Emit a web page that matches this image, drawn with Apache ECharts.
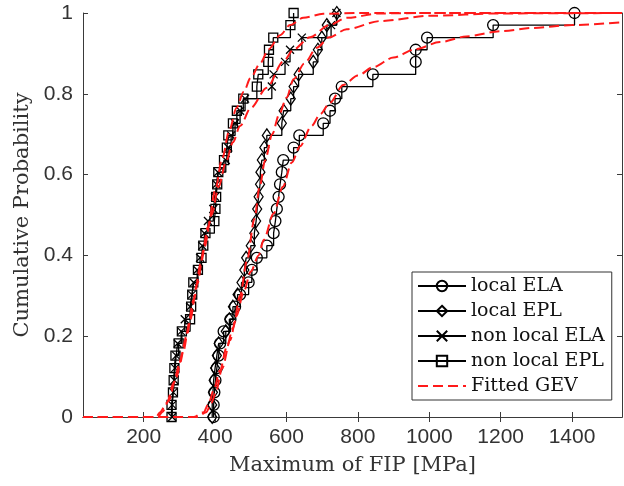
<!DOCTYPE html>
<html>
<head>
<meta charset="utf-8">
<script src="https://cdn.jsdelivr.net/npm/echarts@6/dist/echarts.min.js"></script>
<style>
html,body{margin:0;padding:0;background:#fff;}
#chart{width:624px;height:486px;}
</style>
</head>
<body>
<div id="chart"></div>
<script>
// ECDF probability levels (n = 33 samples)
var levels = [0, 0.030, 0.061, 0.091, 0.121, 0.152, 0.182, 0.212, 0.242, 0.273, 0.303, 0.333, 0.364, 0.394, 0.424, 0.455, 0.485, 0.515, 0.545, 0.576, 0.606, 0.636, 0.667, 0.697, 0.727, 0.758, 0.788, 0.818, 0.848, 0.879, 0.909, 0.939, 0.970, 1];

// Sorted maxima of FIP [MPa] for each model
var localELA = [396,396,398,401,405,410,414,424,443,456,470,494,503,517,545,564,569,573,578,582,587,591,620,636,703,722,736,755,842,962,962,994,1179,1407];
var localEPL = [392,392,394,396,400,405,410,430,440,450,463,474,482,487,500,510,515,518,522,526,527,531,538,545,587,592,612,620,634,675,688,699,713,741];
var nonlocalELA = [280,280,283,286,288,291,295,305,315,330,335,340,350,358,364,370,380,395,400,404,408,430,437,445,456,470,484,559,564,596,610,643,725,740];
var nonlocalEPL = [278,278,282,284,286,289,298,307,330,333,336,339,352,362,367,373,398,401,403,406,409,425,433,437,450,461,479,517,521,549,551,563,611,620];

// Fitted GEV curves [x, F]
var gevNonlocalEPL = [[30,0],[235,0],[246,0.012],[265,0.035],[284,0.085],[300,0.13],[320,0.2],[340,0.29],[360,0.38],[380,0.47],[400,0.56],[420,0.64],[440,0.71],[460,0.765],[480,0.805],[500,0.84],[526,0.875],[550,0.91],[582,0.945],[610,0.97],[647,0.988],[703,0.998],[800,1],[1540,1]];
var gevNonlocalELA = [[30,0],[240,0],[252,0.012],[270,0.04],[290,0.095],[310,0.16],[330,0.24],[350,0.33],[370,0.42],[390,0.5],[410,0.57],[430,0.63],[450,0.68],[470,0.72],[500,0.765],[545,0.815],[591,0.88],[620,0.91],[666,0.94],[720,0.97],[769,0.988],[862,0.999],[1000,1],[1540,1]];
var gevLocalEPL = [[30,0],[340,0],[368,0.012],[382,0.033],[396,0.066],[414,0.116],[433,0.174],[450,0.22],[470,0.3],[490,0.39],[510,0.49],[525,0.57],[540,0.635],[560,0.7],[580,0.75],[600,0.79],[620,0.836],[650,0.875],[685,0.914],[720,0.94],[769,0.96],[862,0.98],[1002,0.993],[1200,0.999],[1540,1]];
var gevLocalELA = [[30,0],[350,0],[375,0.012],[390,0.035],[401,0.058],[420,0.12],[442,0.19],[460,0.25],[480,0.31],[500,0.36],[522,0.4],[536,0.438],[564,0.504],[590,0.57],[615,0.63],[638,0.67],[670,0.72],[695,0.75],[722,0.778],[759,0.822],[800,0.845],[843,0.866],[900,0.89],[960,0.91],[1030,0.928],[1104,0.942],[1200,0.955],[1290,0.963],[1400,0.97],[1540,0.977]];

var xTicks = [200,400,600,800,1000,1200,1400];
var yTicks = [0,0.2,0.4,0.6,0.8,1];
var seriesNames = ['local ELA','local EPL','non local ELA','non local EPL','Fitted GEV'];

function pairs(xs){ return xs.map(function(x,i){ return [x, levels[i]]; }); }

var axisCol = '#3a3a3a';
var sans = "'Liberation Sans', Arial, Helvetica, sans-serif";
var serif = "'DejaVu Serif', serif";

function stair(name, xs, symbol, size){
  return {
    name: name, type: 'line', step: 'end', data: pairs(xs),
    symbol: symbol, symbolSize: size, showSymbol: true, showAllSymbol: true,
    lineStyle: {color: '#000', width: 1.3},
    itemStyle: {color: 'rgba(0,0,0,0)', borderColor: '#000', borderWidth: 1.3},
    emphasis: {disabled: true}, z: 2
  };
}
function gev(data){
  return {
    name: 'Fitted GEV', type: 'line', data: data, symbol: 'none', showSymbol: false,
    smooth: 0.3, smoothMonotone: 'x',
    lineStyle: {color: '#ff1a1a', width: 2, type: [10,5]},
    itemStyle: {color: '#ff1a1a'},
    emphasis: {disabled: true}, z: 3
  };
}

var chart = echarts.init(document.getElementById('chart'), null, {renderer: 'canvas'});
chart.setOption({
  animation: false,
  backgroundColor: '#fff',
  grid: {left: 83, right: 2, top: 13, bottom: 69, containLabel: false},
  xAxis: [{
    type: 'value', min: 30, max: 1540, position: 'bottom',
    name: 'Maximum of FIP [MPa]', nameLocation: 'middle', nameGap: 38,
    nameTextStyle: {fontFamily: serif, fontSize: 21, color: '#333'},
    axisLine: {lineStyle: {color: axisCol, width: 1}},
    axisTick: {inside: true, length: 5, customValues: xTicks, lineStyle: {color: axisCol}},
    axisLabel: {customValues: xTicks, fontFamily: sans, fontSize: 21, color: '#333', margin: 10,
      formatter: function(v){ return String(v); }},
    splitLine: {show: false}
  },{
    type: 'value', min: 30, max: 1540, position: 'top',
    axisLine: {lineStyle: {color: axisCol, width: 1}},
    axisTick: {inside: true, length: 5, customValues: xTicks, lineStyle: {color: axisCol}},
    axisLabel: {show: false}, splitLine: {show: false}
  }],
  yAxis: [{
    type: 'value', min: 0, max: 1, interval: 0.2, position: 'left',
    name: 'Cumulative Probability', nameLocation: 'middle', nameGap: 50,
    nameTextStyle: {fontFamily: serif, fontSize: 21, color: '#333'},
    axisLine: {show: true, lineStyle: {color: axisCol, width: 1}},
    axisTick: {show: true, inside: true, length: 5, lineStyle: {color: axisCol}},
    axisLabel: {fontFamily: sans, fontSize: 21, color: '#333', margin: 10,
      formatter: function(v){ return String(Math.round(v*10)/10); }},
    splitLine: {show: false}
  },{
    type: 'value', min: 0, max: 1, interval: 0.2, position: 'right',
    axisLine: {show: true, lineStyle: {color: axisCol, width: 1}},
    axisTick: {show: true, inside: true, length: 5, lineStyle: {color: axisCol}},
    axisLabel: {show: false}, splitLine: {show: false}
  }],
  legend: {
    orient: 'vertical', left: 412, top: 272,
    data: [
      {name: seriesNames[0]}, {name: seriesNames[1]}, {name: seriesNames[2]}, {name: seriesNames[3]},
      {name: seriesNames[4], itemStyle: {color: 'rgba(0,0,0,0)', borderColor: 'rgba(0,0,0,0)', borderWidth: 0}}
    ],
    itemWidth: 48, itemHeight: 13, itemGap: 5,
    padding: [4, 7, 4, 5],
    borderColor: '#333', borderWidth: 1, backgroundColor: '#fff',
    textStyle: {fontFamily: serif, fontSize: 19, color: '#111', lineHeight: 20},
    selectedMode: false
  },
  series: [
    stair(seriesNames[0], localELA, 'circle', 11),
    stair(seriesNames[1], localEPL, 'diamond', [9,13]),
    stair(seriesNames[2], nonlocalELA, 'path://M0,0L10,10M10,0L0,10', 8),
    stair(seriesNames[3], nonlocalEPL, 'rect', 9),
    gev(gevNonlocalEPL), gev(gevNonlocalELA), gev(gevLocalEPL), gev(gevLocalELA)
  ]
});
</script>
</body>
</html>
